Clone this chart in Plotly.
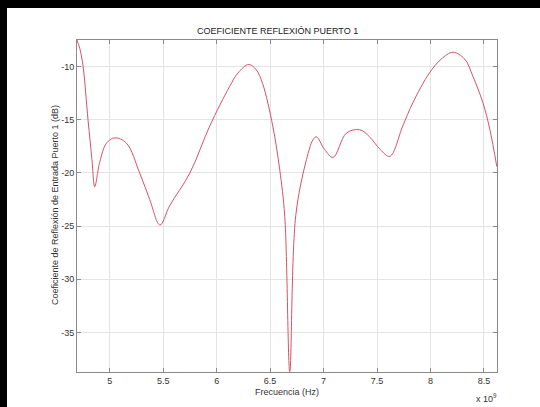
import plotly.graph_objects as go

# Frequency in units of 1e9 Hz and reflection coefficient in dB
freq = [4.694, 4.72, 4.75, 4.797, 4.834, 4.86, 4.906, 4.97, 5.047, 5.156, 5.28, 5.374,
        5.47, 5.56, 5.75, 5.935, 6.12, 6.2, 6.3, 6.37, 6.43, 6.525, 6.59, 6.637,
        6.684, 6.74, 6.84, 6.9, 6.933, 7.01, 7.089, 7.214, 7.339, 7.43, 7.53, 7.62,
        7.74, 7.835, 7.99, 8.1, 8.21, 8.32, 8.396, 8.49, 8.555, 8.62]
s11_db = [-7.5, -8.3, -9.9, -15.0, -18.75, -21.3, -19.0, -17.2, -16.7, -17.2, -20.0, -22.5,
          -24.9, -23.1, -20.0, -15.6, -11.9, -10.6, -9.8, -10.3, -11.6, -15.6, -19.7, -24.1,
          -38.7, -24.0, -18.75, -16.9, -16.6, -17.8, -18.54, -16.25, -15.94, -16.6, -17.8, -18.44,
          -15.6, -13.4, -10.6, -9.3, -8.65, -9.3, -10.9, -13.4, -15.9, -19.4]

x_ticks = [5, 5.5, 6, 6.5, 7, 7.5, 8, 8.5]
x_labels = ["5", "5.5", "6", "6.5", "7", "7.5", "8", "8.5"]
y_ticks = [-35, -30, -25, -20, -15, -10]
y_labels = ["-35", "-30", "-25", "-20", "-15", "-10"]

W, H = 540, 407
L, R, T, B = 77, 43, 40, 35
pw, ph = W - L - R, H - T - B

def px(x):
    return (x - L) / pw

def py(y):
    return 1 - (y - T) / ph

font = dict(family="Liberation Sans, Arial", size=9, color="#333333")

fig = go.Figure()
fig.add_trace(go.Scatter(
    x=freq, y=s11_db, mode="lines",
    line=dict(color="#d65266", width=1, shape="spline", smoothing=1.0),
    hoverinfo="skip", showlegend=False,
))

axis_common = dict(
    showline=True, linecolor="#8a8a8a", linewidth=1, mirror="ticks",
    ticks="inside", ticklen=4, tickcolor="#8a8a8a",
    showgrid=True, gridcolor="#e4e4e4", gridwidth=1,
    zeroline=False,
    tickfont=font,
)

def label(text, x, y, angle=0, color="#333333"):
    return dict(text=text, xref="paper", yref="paper", x=px(x), y=py(y),
                xanchor="center", yanchor="middle", showarrow=False, textangle=angle,
                font=dict(font, color=color))

fig.update_layout(
    width=W, height=H,
    margin=dict(l=L, r=R, t=T, b=B),
    paper_bgcolor="white", plot_bgcolor="white",
    xaxis=dict(range=[4.694, 8.622], tickvals=x_ticks, ticktext=x_labels, **axis_common),
    yaxis=dict(range=[-38.72, -7.5], tickvals=y_ticks, ticktext=y_labels, **axis_common),
    annotations=[
        label("COEFICIENTE REFLEXIÓN PUERTO 1", 277, 31, color="#222222"),
        label("Frecuencia (Hz)", 287, 392),
        label("Coeficiente de Reflexión de Entrada Puerto 1 (dB)", 55, 205, angle=-90),
        label("x 10<sup>9</sup>", 486, 398),
    ],
    shapes=[
        dict(type="rect", xref="paper", yref="paper", x0=px(0), x1=px(7), y0=py(H), y1=py(0),
             fillcolor="black", line=dict(width=0), layer="below"),
        dict(type="rect", xref="paper", yref="paper", x0=px(0), x1=px(W), y0=py(8), y1=py(0),
             fillcolor="black", line=dict(width=0), layer="below"),
    ],
)

fig.write_html("out.html")
